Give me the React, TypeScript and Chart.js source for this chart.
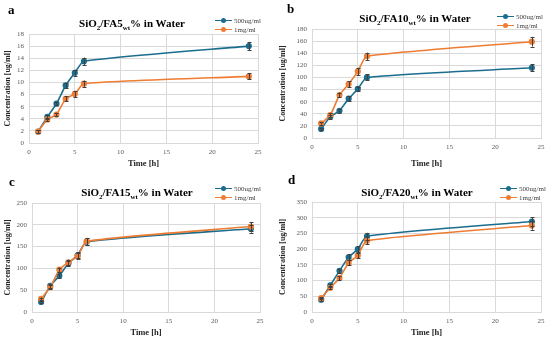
import React, { useEffect, useRef } from "react";
import { Chart, registerables } from "chart.js";

Chart.register(...registerables);

// ---------- data ----------
const TIME_H = [1, 2, 3, 4, 5, 6, 24];
const X_TICKS = [0, 5, 10, 15, 20, 25];
const SERIES_NAMES = ["500ug/ml", "1mg/ml"];

const A_500 = [1.9, 4.3, 6.5, 9.5, 11.6, 13.5, 16.0];
const A_500_ERR = [0.2, 0.3, 0.3, 0.4, 0.5, 0.6, 0.7];
const A_1MG = [1.9, 3.9, 4.7, 7.3, 8.1, 9.8, 11.0];
const A_1MG_ERR = [0.2, 0.3, 0.3, 0.4, 0.5, 0.5, 0.5];

const B_500 = [15, 35, 45, 65, 81, 100, 116];
const B_500_ERR = [2, 3, 3, 4, 4, 5, 6];
const B_1MG = [24, 38, 71, 89, 110, 135, 159];
const B_1MG_ERR = [2, 3, 4, 5, 6, 6, 8];

const C_500 = [23, 60, 83, 112, 130, 161, 191];
const C_500_ERR = [3, 4, 5, 6, 7, 8, 9];
const C_1MG = [30, 57, 97, 114, 128, 162, 196];
const C_1MG_ERR = [3, 4, 5, 6, 7, 8, 10];

const D_500 = [39, 85, 131, 174, 200, 241, 288];
const D_500_ERR = [4, 5, 7, 9, 10, 11, 14];
const D_1MG = [44, 77, 108, 157, 180, 227, 275];
const D_1MG_ERR = [4, 5, 6, 8, 9, 11, 13];

const BLUE = "#1b6d8e";
const ORANGE = "#ee7d33";
const SERIF = '"Liberation Serif", "DejaVu Serif", serif';

const PANELS = [
  { letter: "a", num: "5", s1: A_500, e1: A_500_ERR, s2: A_1MG, e2: A_1MG_ERR, yMax: 18, yStep: 2,
    pos: [0, 0], plot: { l: 29, r: 258, t: 34, b: 143 }, title: [132, 25], legend: [215, 16], letterPos: [8, 2] },
  { letter: "b", num: "10", s1: B_500, e1: B_500_ERR, s2: B_1MG, e2: B_1MG_ERR, yMax: 180, yStep: 20,
    pos: [275, 0], plot: { l: 37, r: 266, t: 29, b: 138 }, title: [140, 20], legend: [222, 12], letterPos: [12, 1] },
  { letter: "c", num: "15", s1: C_500, e1: C_500_ERR, s2: C_1MG, e2: C_1MG_ERR, yMax: 250, yStep: 50,
    pos: [0, 169], plot: { l: 32, r: 260, t: 34, b: 143 }, title: [137, 25], legend: [215, 15], letterPos: [9, 5] },
  { letter: "d", num: "20", s1: D_500, e1: D_500_ERR, s2: D_1MG, e2: D_1MG_ERR, yMax: 350, yStep: 50,
    pos: [275, 169], plot: { l: 37, r: 266, t: 33, b: 143 }, title: [142, 25], legend: [225, 15], letterPos: [13, 3] },
];

const errorBarPlugin = {
  id: "errorBars",
  afterDatasetsDraw(chart: any) {
    const ctx = chart.ctx;
    const xs = chart.scales.x;
    const ys = chart.scales.y;
    ctx.save();
    ctx.strokeStyle = "#404040";
    ctx.lineWidth = 1;
    chart.data.datasets.forEach((ds: any) => {
      const errs = ds.errors || [];
      ds.data.forEach((p: any, i: number) => {
        const e = errs[i];
        if (!e) return;
        const x = Math.round(xs.getPixelForValue(p.x)) + 0.5;
        const y1 = ys.getPixelForValue(p.y - e);
        const y2 = ys.getPixelForValue(p.y + e);
        ctx.beginPath();
        ctx.moveTo(x, y1);
        ctx.lineTo(x, y2);
        ctx.moveTo(x - 2, Math.round(y1) + 0.5);
        ctx.lineTo(x + 2, Math.round(y1) + 0.5);
        ctx.moveTo(x - 2, Math.round(y2) + 0.5);
        ctx.lineTo(x + 2, Math.round(y2) + 0.5);
        ctx.stroke();
      });
    });
    ctx.restore();
  },
};

function Panel({ cfg }: { cfg: any }) {
  const ref = useRef<HTMLCanvasElement | null>(null);
  useEffect(() => {
    if (!ref.current) return;
    const W = 275, H = 169;
    const mk = (vals: number[], errs: number[], color: string, label: string) => ({
      label,
      data: TIME_H.map((x, i) => ({ x, y: vals[i] })),
      errors: errs,
      borderColor: color,
      backgroundColor: color,
      pointBackgroundColor: color,
      pointBorderColor: color,
      pointRadius: 2.3,
      borderWidth: 1.6,
      tension: 0.18,
    });
    const chart = new Chart(ref.current, {
      type: "line",
      data: {
        datasets: [
          mk(cfg.s2, cfg.e2, ORANGE, SERIES_NAMES[1]),
          mk(cfg.s1, cfg.e1, BLUE, SERIES_NAMES[0]),
        ] as any,
      },
      options: {
        responsive: false,
        animation: false,
        events: [],
        layout: { padding: { left: 0, top: cfg.plot.t, right: W - cfg.plot.r, bottom: 0 } },
        plugins: { legend: { display: false }, tooltip: { enabled: false } },
        scales: {
          x: {
            type: "linear",
            min: 0,
            max: 25,
            afterBuildTicks: (s: any) => { s.ticks = X_TICKS.map((v) => ({ value: v })); },
            afterFit: (s: any) => { s.height = H - cfg.plot.b; },
            grid: { color: "#d9d9d9", lineWidth: 1, drawTicks: false },
            border: { display: true, color: "#d9d9d9" },
            ticks: { color: "#595959", font: { family: SERIF, size: 7 }, padding: 5, maxRotation: 0 },
            title: { display: true, text: "Time [h]", color: "#262626", font: { family: SERIF, size: 8.5, weight: "bold" }, padding: { top: 0, bottom: 0 } },
          },
          y: {
            min: 0,
            max: cfg.yMax,
            ticks: { stepSize: cfg.yStep, color: "#595959", font: { family: SERIF, size: 7 }, padding: 5 },
            afterFit: (s: any) => { s.width = cfg.plot.l; },
            grid: { color: "#d9d9d9", lineWidth: 1, drawTicks: false },
            border: { display: true, color: "#d9d9d9" },
            title: { display: true, text: "Concentration [ug/ml]", color: "#262626", font: { family: SERIF, size: 8, weight: "bold" }, padding: { top: 3, bottom: 0 } },
          },
        },
      } as any,
      plugins: [errorBarPlugin],
    });
    return () => chart.destroy();
  }, []);

  const [px, py] = cfg.pos;
  const legendRow = (color: string, text: string) => (
    <div style={{ display: "flex", alignItems: "center", height: 9 }}>
      <span style={{ position: "relative", display: "inline-block", width: 17, height: 1.6, background: color, marginRight: 2 }}>
        <span style={{ position: "absolute", left: 6, top: -2, width: 5, height: 5, borderRadius: "50%", background: color }} />
      </span>
      <span style={{ font: `7px ${SERIF}`, color: "#404040" }}>{text}</span>
    </div>
  );
  return (
    <div style={{ position: "absolute", left: px, top: py, width: 275, height: 169 }}>
      <canvas ref={ref} width={275} height={169} style={{ display: "block" }} />
      <div style={{ position: "absolute", left: cfg.letterPos[0], top: cfg.letterPos[1], font: `bold 13px ${SERIF}`, color: "#000" }}>{cfg.letter}</div>
      <div style={{ position: "absolute", left: cfg.title[0] - 80, top: cfg.title[1] - 8, width: 160, textAlign: "center", font: `bold 11px ${SERIF}`, color: "#000", whiteSpace: "nowrap", lineHeight: "13px" }}>
        SiO<span style={{ fontSize: 7, position: "relative", top: 3 }}>2</span>/FA{cfg.num}
        <span style={{ fontSize: 7, position: "relative", top: 3 }}>wt</span>% in Water
      </div>
      <div style={{ position: "absolute", left: cfg.legend[0], top: cfg.legend[1] }}>
        {legendRow(BLUE, SERIES_NAMES[0])}
        {legendRow(ORANGE, SERIES_NAMES[1])}
      </div>
    </div>
  );
}

export default function App() {
  return (
    <div style={{ position: "fixed", left: 0, top: 0, width: 550, height: 338, background: "#fff", overflow: "hidden" }}>
      {PANELS.map((p) => (
        <Panel key={p.letter} cfg={p} />
      ))}
    </div>
  );
}
